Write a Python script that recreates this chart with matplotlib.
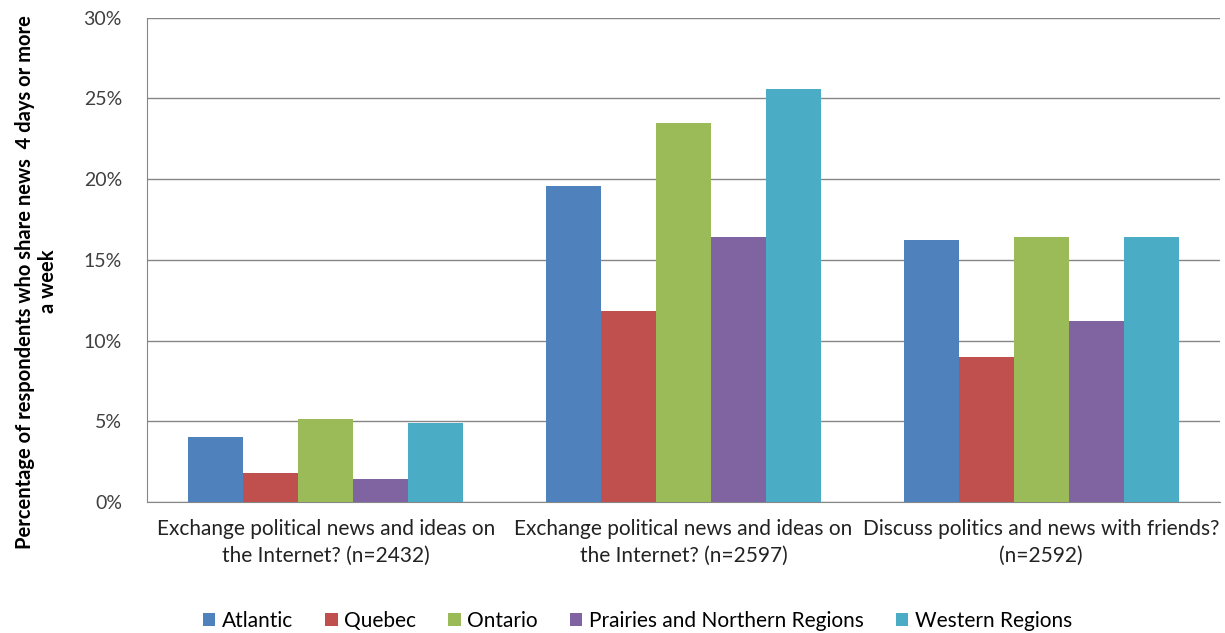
import numpy as np
import matplotlib.pyplot as plt
from matplotlib.ticker import PercentFormatter

plt.rcParams['font.family'] = ['Lato', 'DejaVu Sans']

categories = ["Exchange political news and ideas on\nthe Internet? (n=2432)",
              "Exchange political news and ideas on\nthe Internet? (n=2597)",
              "Discuss politics and news with friends?\n(n=2592)"]
regions = ["Atlantic", "Quebec", "Ontario", "Prairies and Northern Regions", "Western Regions"]
atlantic = [4.0, 19.6, 16.2]
quebec = [1.8, 11.8, 9.0]
ontario = [5.15, 23.5, 16.4]
prairies = [1.45, 16.4, 11.2]
western = [4.9, 25.6, 16.4]
colors = ["#4F81BD", "#C0504D", "#9BBB59", "#8064A2", "#4BACC6"]

series = [atlantic, quebec, ontario, prairies, western]

fig = plt.figure(figsize=(12.25, 6.33), dpi=100)
ax = fig.add_axes([0.12, 0.207, 0.876, 0.765])

x = np.arange(len(categories))
w = 1 / 6.5
for i, (vals, name, c) in enumerate(zip(series, regions, colors)):
    ax.bar(x + (i - 2) * w, vals, width=w, color=c, label=name, zorder=3)

ax.set_xlim(-0.5, 2.5)
ax.set_ylim(0, 30)
ax.set_yticks(np.arange(0, 31, 5))
ax.yaxis.set_major_formatter(PercentFormatter(decimals=0))
ax.grid(axis='y', color='#868686', linewidth=1, zorder=0)
for s in ['top', 'right']:
    ax.spines[s].set_visible(False)
for s in ['left', 'bottom']:
    ax.spines[s].set_color('#868686')
ax.tick_params(axis='both', length=0, colors='#404040')
ax.tick_params(axis='y', pad=18, labelsize=14)
ax.tick_params(axis='x', pad=12)
ax.set_xticks(x)
ax.set_xticklabels(categories, fontsize=15, color='#222222', linespacing=1.45)

ax.set_ylabel("Percentage of respondents who share news  4 days or more\na week",
              fontsize=14.5, fontweight='bold', color='black')
ax.yaxis.set_label_coords(-0.083, 0.455)

ax.legend(loc='lower center', bbox_to_anchor=(0.457, -0.305), ncol=5, frameon=False,
          fontsize=15, handlelength=0.6, handleheight=0.6, handletextpad=0.3,
          columnspacing=1.55)

fig.savefig("out.png", dpi=100)
